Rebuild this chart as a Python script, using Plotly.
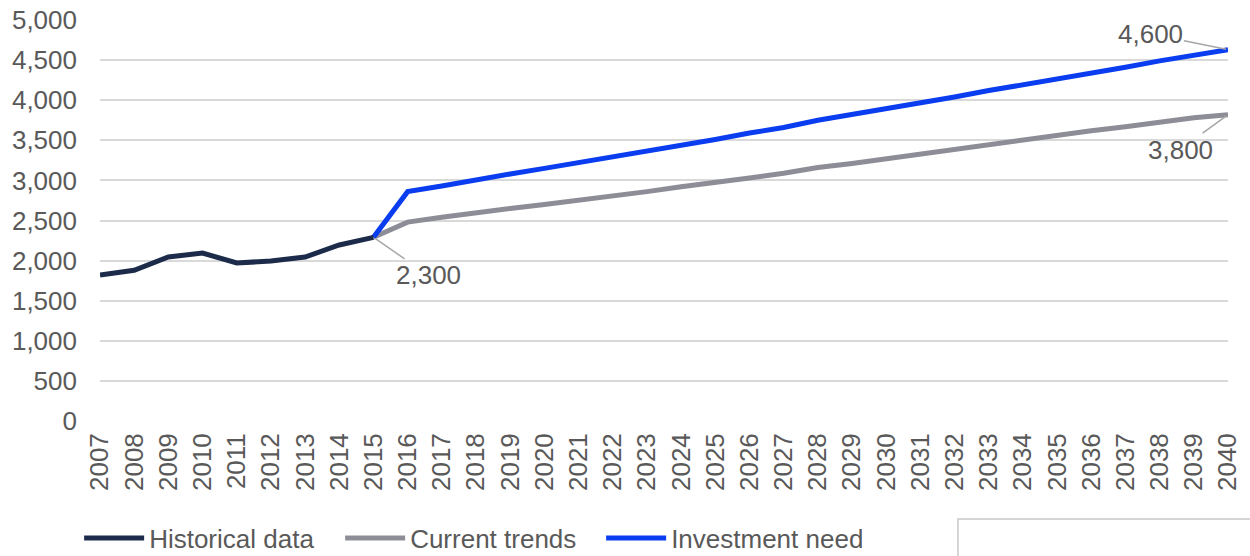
import plotly.graph_objects as go

years_hist = [2007, 2008, 2009, 2010, 2011, 2012, 2013, 2014, 2015]
historical = [1820, 1880, 2045, 2095, 1970, 1995, 2045, 2195, 2290]

years_proj = list(range(2015, 2041))
current_trends = [2290, 2480, 2540, 2600, 2650, 2700, 2750, 2810, 2860, 2920,
                  2970, 3030, 3090, 3160, 3210, 3270, 3330, 3390, 3450, 3510,
                  3560, 3620, 3670, 3730, 3780, 3820]
investment_need = [2290, 2860, 2930, 3010, 3080, 3150, 3220, 3290, 3370, 3440,
                   3510, 3590, 3660, 3750, 3820, 3890, 3970, 4040, 4120, 4190,
                   4270, 4340, 4410, 4490, 4560, 4630]

all_years = list(range(2007, 2041))
y_ticks = [0, 500, 1000, 1500, 2000, 2500, 3000, 3500, 4000, 4500, 5000]

FONT = "Liberation Sans, Arial, sans-serif"
TXT = "#595959"
FS = 26

fig = go.Figure()
fig.add_trace(go.Scatter(x=years_proj, y=current_trends, mode="lines", name="Current trends",
                         legendrank=2, line=dict(color="#8d8d97", width=5)))
fig.add_trace(go.Scatter(x=years_proj, y=investment_need, mode="lines", name="Investment need",
                         legendrank=3, line=dict(color="#0a3cf0", width=5)))
fig.add_trace(go.Scatter(x=years_hist, y=historical, mode="lines", name="Historical data",
                         legendrank=1, line=dict(color="#1c2b4a", width=5)))

ann_common = dict(showarrow=True, arrowhead=0, arrowwidth=1.5, arrowcolor="#a6a6a6",
                  font=dict(family=FONT, size=FS, color=TXT), standoff=2)
fig.add_annotation(x=2015, y=historical[-1], text="2,300", ax=55, ay=38, **ann_common)
fig.add_annotation(x=2040, y=investment_need[-1], text="4,600", ax=-78, ay=-16, **ann_common)
fig.add_annotation(x=2040, y=current_trends[-1], text="3,800", ax=-48, ay=35, **ann_common)

fig.add_shape(type="rect", xref="paper", yref="paper", x0=0.7606, x1=1.03, y0=-0.36, y1=-0.2444,
              line=dict(color="#c8c8c8", width=1.5), fillcolor="rgba(0,0,0,0)")

fig.update_layout(
    width=1250, height=556,
    margin=dict(l=100, r=22, t=20, b=135, autoexpand=False),
    paper_bgcolor="white", plot_bgcolor="white",
    font=dict(family=FONT, size=FS, color=TXT),
    showlegend=True,
    legend=dict(orientation="h", x=-0.0185, xanchor="left", y=-0.292, yanchor="middle",
                font=dict(family=FONT, size=FS, color=TXT), itemwidth=60,
                entrywidth=186, entrywidthmode="pixels",
                traceorder="normal", bgcolor="rgba(0,0,0,0)"),
)
fig.update_xaxes(range=[2007, 2040], tickmode="array", tickvals=all_years,
                 ticktext=[str(y) for y in all_years], tickangle=-90, automargin=False,
                 showgrid=False, zeroline=False, showline=False, ticks="",
                 tickfont=dict(family=FONT, size=FS, color=TXT), ticklabelstandoff=6)
fig.update_yaxes(range=[0, 5000], tickmode="array", tickvals=y_ticks, tickformat=",",
                 showgrid=True, gridcolor="#d9d9d9", gridwidth=1.5, zeroline=False,
                 showline=False, ticks="", automargin=False,
                 tickfont=dict(family=FONT, size=FS, color=TXT), ticklabelstandoff=22)

fig.write_html("out.html", config={"displayModeBar": False},
               post_script="document.body.style.margin='0';")
